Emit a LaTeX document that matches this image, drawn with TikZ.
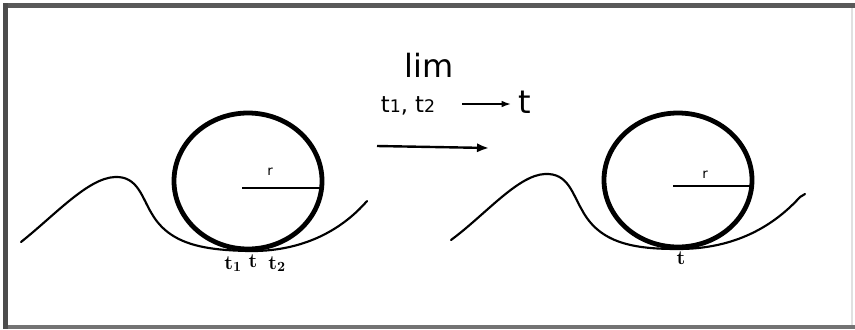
\documentclass[tikz,border=0pt]{standalone}
\usepackage{fontspec}
\usetikzlibrary{arrows.meta}
\newfontfamily\dejavu{DejaVu Sans}
\begin{document}
\begin{tikzpicture}[x=0.75pt,y=-0.75pt,
  wheel/.style={line width=3.6pt},
  road/.style={line width=1.6pt, line cap=round},
  rad/.style={line width=2pt},
  lbl/.style={inner sep=0pt, font=\fontsize{15}{15}\selectfont\bfseries},
  arr/.style={line width=1.8pt, -{Latex[length=9pt,width=7pt]}},
  sarr/.style={line width=1.3pt, -{Latex[length=7pt,width=5pt]}}]
\useasboundingbox (0,0) rectangle (855,329);
% frame
\fill[white] (0,0) rectangle (855,329);
\fill[black!65] (3,3) rectangle (855,8);
\fill[black!70] (3,3) rectangle (8,329);
\fill[black!55] (8,325) rectangle (855,329);
\draw[black!12, line width=1pt] (852,8) -- (852,325);
% left picture
\draw[road] (21,242) .. controls (55,215) and (88,178) .. (115,177)
  .. controls (138,176) and (142,198) .. (152,214)
  .. controls (170,245) and (205,250) .. (248,251)
  .. controls (300,252) and (340,232) .. (367,201);
\draw[wheel] (248,181) ellipse [x radius=74, y radius=68];
\coordinate (cL) at (242,188);
\coordinate (eL) at (322,188);
\draw[rad] (cL) -- (eL);
\node[inner sep=0pt, font=\dejavu\fontsize{10}{10}\selectfont] (rL) at (270,172) {r};
\node[lbl, anchor=base] (t1) at (233,269) {t\textsubscript{1}};
\node[lbl, anchor=base] (tm) at (253,267) {t};
\node[lbl, anchor=base] (t2) at (277,269) {t\textsubscript{2}};
% middle
\node[inner sep=0pt, anchor=base, font=\dejavu\fontsize{24}{24}\selectfont] (lim) at (429,77) {lim};
\node[inner sep=0pt, anchor=base, font=\dejavu\fontsize{17}{17}\selectfont] (tt) at (408,112) {t{\fontsize{13}{13}\selectfont 1}, t{\fontsize{13}{13}\selectfont 2}};
\node[inner sep=0pt, anchor=base, font=\dejavu\fontsize{24}{24}\selectfont] (tg) at (525,113) {t};
\coordinate (sa) at (462,104);
\coordinate (sb) at (511,104);
\draw[sarr] (sa) -- (sb);
\coordinate (ba) at (377,146);
\coordinate (bb) at (489,148);
\draw[arr] (ba) -- (bb);
% right picture
\draw[road] (451,240) .. controls (485,215) and (518,175) .. (545,174)
  .. controls (568,173) and (572,193) .. (582,210)
  .. controls (600,244) and (635,249) .. (678,249)
  .. controls (730,249) and (770,230) .. (800,197) -- (805,194);
\draw[wheel] (678,180) ellipse [x radius=74, y radius=67];
\coordinate (cR) at (673,186);
\coordinate (eR) at (752,186);
\draw[rad] (cR) -- (eR);
\node[inner sep=0pt, font=\dejavu\fontsize{10}{10}\selectfont] (rR) at (705,175) {r};
\node[lbl, anchor=base] (tR) at (681,264) {t};
\end{tikzpicture}
\end{document}
